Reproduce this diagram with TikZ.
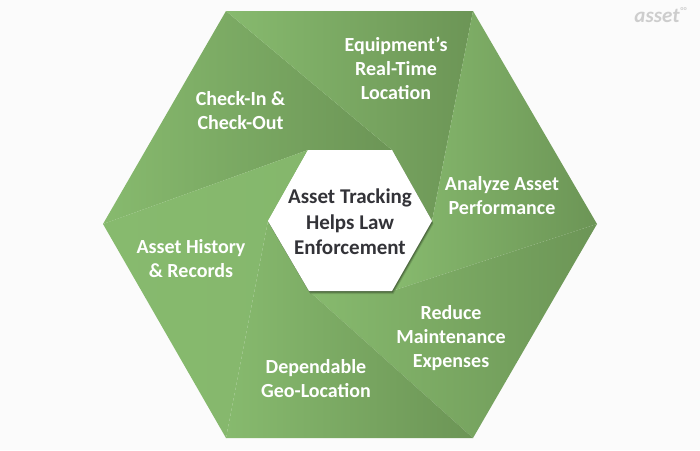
\documentclass[tikz,border=0pt]{standalone}
\usepackage{fontspec}
\setmainfont{Carlito}
\definecolor{pagebg}{HTML}{FBFBFB}
\definecolor{leaflight}{HTML}{87BA6E}
\definecolor{leafdark}{HTML}{6C9556}
\definecolor{inktext}{HTML}{333338}
\definecolor{logogray}{HTML}{CDCDCD}
\tikzset{
  leaf/.style={left color=leaflight, right color=leafdark},
  flatleaf/.style={left color=leaflight, right color=leaflight!92!leafdark},
  lab/.style={white, font=\bfseries\fontsize{20}{24}\selectfont, align=center},
  hub/.style={inktext, font=\bfseries\fontsize{21}{25.5}\selectfont, align=center},
}
\begin{document}
\begin{tikzpicture}[x=1pt, y=-1pt]
\fill[pagebg] (0,0) rectangle (700,450);
% outer ring
\coordinate (oW) at (103,224);
\coordinate (oNW) at (226,11);
\coordinate (oNE) at (473,11);
\coordinate (oE) at (597,224);
\coordinate (oSE) at (473,438);
\coordinate (oSW) at (226,438);
% hub corners
\coordinate (iW) at (268,221);
\coordinate (iNW) at (308,150);
\coordinate (iNE) at (392,150);
\coordinate (iE) at (432,221);
\coordinate (iSE) at (392,291);
\coordinate (iSW) at (309,291);
% six blades
\shade[leaf] (oW) -- (oNW) -- (iNE) -- (iNW) -- cycle;
\shade[leaf] (oNW) -- (oNE) -- (iE) -- (iNE) -- cycle;
\shade[leaf] (oNE) -- (oE) -- (iSE) -- (iE) -- cycle;
\shade[leaf] (oE) -- (oSE) -- (iSW) -- (iSE) -- cycle;
\shade[leaf] (oSE) -- (oSW) -- (iW) -- (iSW) -- cycle;
\shade[flatleaf] (oSW) -- (oW) -- (iNW) -- (iW) -- cycle;
% hub with its shadow
\foreach \d/\op in {3/0.2, 2/0.4, 1/0.6}
  \fill[leafdark!55!black, opacity=\op, shift={(0.5*\d,\d)}] (268,221) -- (308,150) -- (392,150) -- (432,221) -- (392,291) -- (309,291) -- cycle;
\fill[white] (iW) -- (iNW) -- (iNE) -- (iE) -- (iSE) -- (iSW) -- cycle;
\node[hub] (hubtext) at (350,222) {Asset Tracking\\Helps Law\\Enforcement};
\node[lab] (equip) at (396,68) {Equipment’s\\Real-Time\\Location};
\node[lab] (checkin) at (240.5,111) {Check-In \&\\Check-Out};
\node[lab] (analyze) at (502,196) {Analyze Asset\\Performance};
\node[lab] (history) at (191,259) {Asset History\\\& Records};
\node[lab] (reduce) at (451,338) {Reduce\\Maintenance\\Expenses};
\node[lab] (geo) at (316,379) {Dependable\\Geo-Location};
\node[logogray, font=\bfseries\itshape\fontsize{21}{21}\selectfont, inner sep=0pt] (logo) at (657,16) {asset};
\node[logogray, font=\bfseries\fontsize{6}{6}\selectfont, inner sep=0pt, right=0.5pt] (logosup) at (logo.north east) {oo};
\end{tikzpicture}
\end{document}
